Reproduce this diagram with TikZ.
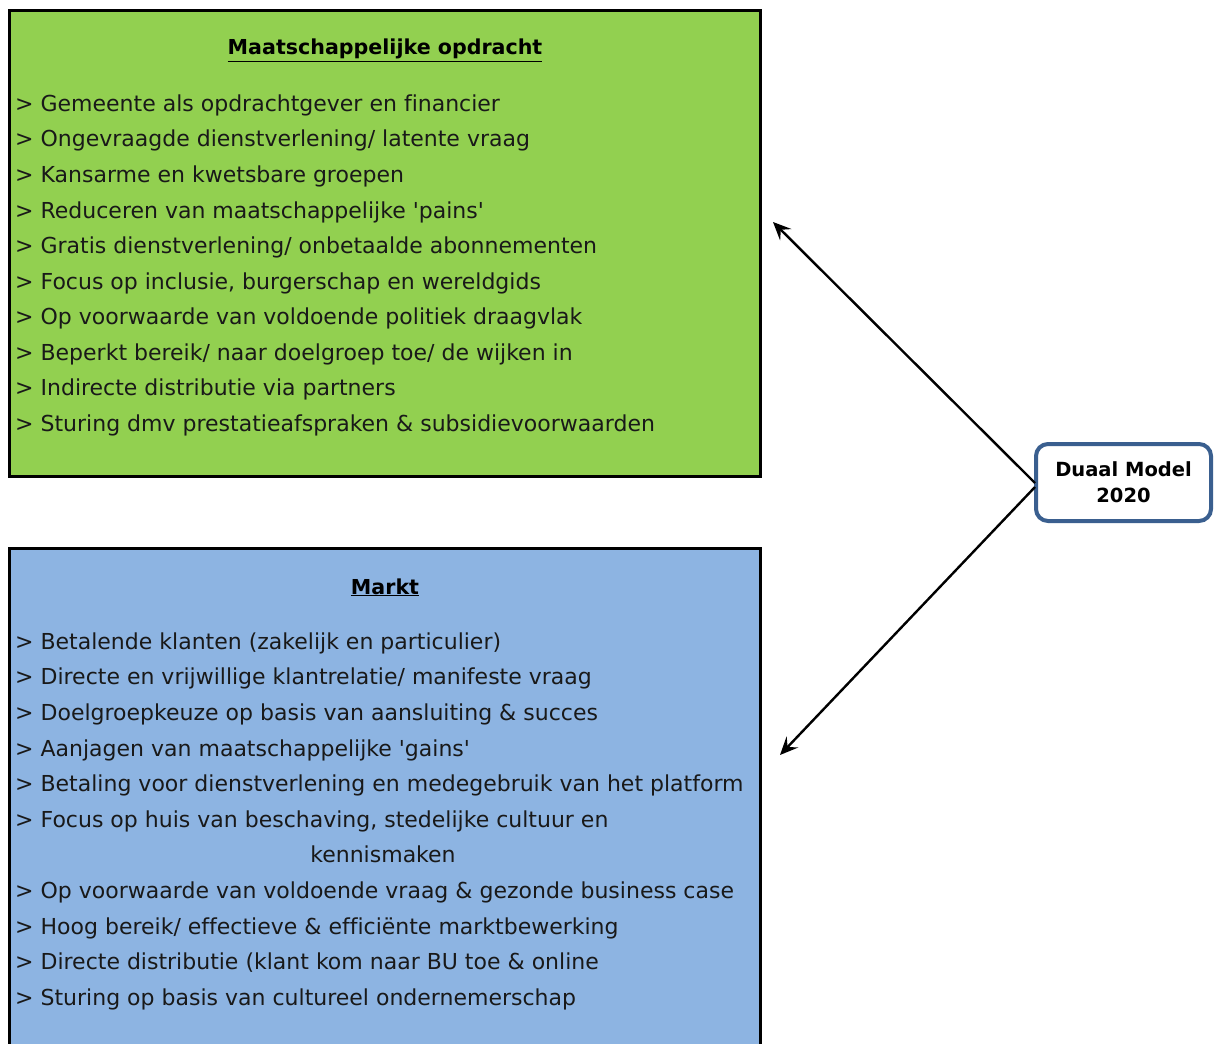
\documentclass[tikz,border=0pt]{standalone}
\usepackage{fontspec}
\setmainfont{DejaVu Sans}[Ligatures={NoCommon,TeX}]
\usetikzlibrary{arrows.meta}
\definecolor{boxgreen}{HTML}{92D050}
\definecolor{boxblue}{HTML}{8DB4E2}
\definecolor{nodeblue}{HTML}{3A5F8F}
\newcommand{\sq}{\textquotesingle}
\tikzset{
  item/.style={anchor=base west, inner sep=0pt, font=\fontsize{22}{24}\selectfont, text=black!90},
  heading/.style={anchor=base, inner sep=0pt, font=\fontsize{20.6}{22}\selectfont\bfseries},
  panel/.style={draw=black, line width=3pt},
  conn/.style={line width=2.4pt, -{Stealth[length=18pt,width=16pt,inset=7pt]}},
}
\begin{document}
\begin{tikzpicture}[x=1pt,y=-1pt]
\useasboundingbox (0,0) rectangle (1214,1043);
\clip (0,0) rectangle (1214,1043);
% green panel
\fill[boxgreen] (9,11) rectangle (760,476);
\draw[panel] (9,11) rectangle (760,476);
\node[heading] (t1) at (385,55) {\underline{Maatschappelijke opdracht}};
\node[item] (g1) at (15,111.5) {> Gemeente als opdrachtgever en financier};
\node[item] (g2) at (15,147) {> Ongevraagde dienstverlening/ latente vraag};
\node[item] (g3) at (15,182.5) {> Kansarme en kwetsbare groepen};
\node[item] (g4) at (15,218) {> Reduceren van maatschappelijke \sq pains\sq};
\node[item] (g5) at (15,253.5) {> Gratis dienstverlening/ onbetaalde abonnementen};
\node[item] (g6) at (15,289) {> Focus op inclusie, burgerschap en wereldgids};
\node[item] (g7) at (15,324.5) {> Op voorwaarde van voldoende politiek draagvlak};
\node[item] (g8) at (15,360) {> Beperkt bereik/ naar doelgroep toe/ de wijken in};
\node[item] (g9) at (15,395.5) {> Indirecte distributie via partners};
\node[item] (g10) at (15,431) {> Sturing dmv prestatieafspraken \& subsidievoorwaarden};
% blue panel
\fill[boxblue] (9,548) rectangle (760,1070);
\draw[panel] (9,548) rectangle (760,1070);
\node[heading] (t2) at (385,594) {\underline{Markt}};
\node[item] (b1) at (15,649) {> Betalende klanten (zakelijk en particulier)};
\node[item] (b2) at (15,684.5) {> Directe en vrijwillige klantrelatie/ manifeste vraag};
\node[item] (b3) at (15,720) {> Doelgroepkeuze op basis van aansluiting \& succes};
\node[item] (b4) at (15,756) {> Aanjagen van maatschappelijke \sq gains\sq};
\node[item] (b5) at (15,791) {> Betaling voor dienstverlening en medegebruik van het platform};
\node[item] (b6) at (15,827) {> Focus op huis van beschaving, stedelijke cultuur en};
\node[item, anchor=base] (b6b) at (383,862.5) {kennismaken};
\node[item] (b7) at (15,898) {> Op voorwaarde van voldoende vraag \& gezonde business case};
\node[item] (b8) at (15,934) {> Hoog bereik/ effectieve \& efficiënte marktbewerking};
\node[item] (b9) at (15,969) {> Directe distributie (klant kom naar BU toe \& online};
\node[item] (b10) at (15,1005) {> Sturing op basis van cultureel ondernemerschap};
% central node
\node[draw=nodeblue, line width=4pt, rounded corners=12pt, fill=white,
      minimum width=175pt, minimum height=77pt, align=center,
      font=\fontsize{19.5}{26}\selectfont\bfseries] (dm) at (1123.5,482.5) {Duaal Model\\2020};
\coordinate (pm) at (1035,483);
\coordinate (pmb) at (1035,487);
\coordinate (aTop) at (773,222);
\coordinate (aBot) at (780,755);
\draw[conn] (pm) -- (aTop);
\draw[conn] (pmb) -- (aBot);
\end{tikzpicture}
\end{document}
